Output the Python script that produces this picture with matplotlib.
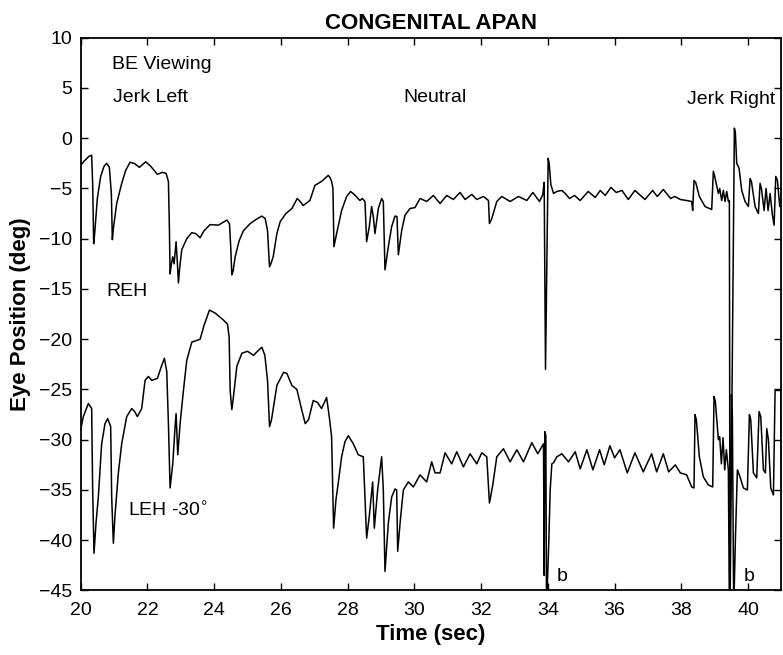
import matplotlib
matplotlib.use("Agg")
import matplotlib.pyplot as plt

plt.rcParams['font.family'] = ['Liberation Sans', 'DejaVu Sans']

# ---- data ----
reh_t = [20.00, 20.10, 20.25, 20.33, 20.36, 20.39, 20.42, 20.50, 20.60, 20.70, 20.78, 20.86, 20.92, 20.95, 20.98,
         21.08, 21.23, 21.35, 21.48, 21.60, 21.76, 21.95, 22.10, 22.30, 22.45, 22.56, 22.63, 22.66, 22.68, 22.72,
         22.76, 22.80, 22.86, 22.90, 22.93, 22.97, 23.03, 23.18, 23.33, 23.45, 23.58, 23.70, 23.88, 24.13, 24.38,
         24.46, 24.50, 24.53, 24.57, 24.63, 24.75, 24.88, 25.08, 25.25, 25.43, 25.53, 25.60, 25.66, 25.70, 25.77,
         25.88, 25.98, 26.15, 26.33, 26.49, 26.58, 26.67, 26.87, 27.02, 27.22, 27.42, 27.47, 27.52, 27.56, 27.59,
         27.67, 27.82, 27.97, 28.09, 28.20, 28.37, 28.44, 28.52, 28.57, 28.65, 28.72, 28.77, 28.82, 28.92, 29.02,
         29.07, 29.12, 29.22, 29.32, 29.42, 29.48, 29.52, 29.62, 29.72, 29.87, 30.02, 30.17, 30.37, 30.57, 30.77,
         30.97, 31.17, 31.37, 31.52, 31.72, 31.87, 32.07, 32.22, 32.25, 32.32, 32.47, 32.62, 32.87, 33.12, 33.37,
         33.55, 33.75, 33.85, 33.89, 33.93, 34.01, 34.04, 34.09, 34.17, 34.27, 34.42, 34.52, 34.65, 34.80, 34.97,
         35.21, 35.42, 35.57, 35.72, 35.89, 36.05, 36.22, 36.41, 36.61, 36.91, 37.14, 37.28, 37.46, 37.68, 37.80,
         37.97, 38.16, 38.31, 38.34, 38.38, 38.43, 38.54, 38.71, 38.91, 38.96, 39.00, 39.11, 39.15, 39.21, 39.26,
         39.31, 39.36, 39.41, 39.44, 39.46, 39.59, 39.62, 39.66, 39.73, 39.81, 39.91, 40.01, 40.06, 40.10, 40.21,
         40.31, 40.36, 40.40, 40.48, 40.54, 40.60, 40.66, 40.73, 40.78, 40.83, 40.88, 40.95, 40.98, 41.00]
reh_v = [-2.7, -2.3, -1.8, -1.7, -4.5, -10.5, -9.5, -6.0, -3.8, -2.8, -2.5, -2.9, -5.5, -10.1, -9.0,
         -6.5, -4.5, -3.2, -2.4, -2.5, -2.9, -2.35, -2.8, -3.6, -3.4, -3.5, -4.3, -9.0, -13.5, -12.5,
         -11.8, -12.5, -10.3, -12.5, -14.4, -12.8, -11.1, -10.0, -9.4, -9.5, -9.9, -9.2, -8.6, -8.65, -8.15,
         -8.5, -11.0, -13.6, -13.2, -11.8, -10.2, -9.2, -8.5, -8.1, -7.75, -8.0, -9.2, -12.8, -12.5, -11.8,
         -9.5, -8.3, -7.5, -7.0, -6.0, -6.3, -6.7, -6.2, -4.7, -4.3, -3.7, -3.9, -4.3, -5.0, -10.8,
         -9.5, -7.2, -5.8, -5.3, -5.6, -6.2, -6.0, -6.3, -10.3, -8.8, -6.8, -7.8, -9.5, -7.0, -6.0,
         -6.3, -13.1, -10.8, -8.8, -7.75, -7.8, -11.6, -9.2, -7.65, -7.0, -6.9, -6.0, -6.3, -5.7, -6.5,
         -5.7, -6.1, -5.4, -6.1, -5.6, -6.1, -5.8, -6.2, -8.5, -8.0, -6.3, -5.8, -6.3, -5.8, -6.2,
         -5.4, -6.3, -5.6, -4.4, -23.0, -2.0, -2.5, -4.6, -5.5, -5.3, -5.2, -5.5, -6.0, -5.7, -6.2,
         -5.3, -5.9, -5.2, -5.7, -4.9, -5.4, -5.2, -6.1, -5.2, -6.1, -5.2, -5.8, -5.1, -6.0, -5.8,
         -6.1, -6.2, -6.3, -7.2, -4.2, -4.4, -5.8, -6.8, -7.1, -3.3, -3.8, -5.5, -5.0, -6.2, -5.2,
         -6.3, -5.3, -6.3, -6.2, -47.0, 1.0, 0.5, -2.5, -3.0, -5.2, -6.3, -6.8, -4.0, -4.3, -6.8,
         -7.5, -4.5, -5.0, -7.2, -5.0, -7.2, -5.5, -7.65, -8.65, -3.8, -4.2, -6.8, -6.0, -7.0]

leh_t = [20.00, 20.08, 20.23, 20.33, 20.36, 20.40, 20.46, 20.53, 20.63, 20.73, 20.81, 20.90, 20.93, 20.98, 21.03,
         21.13, 21.23, 21.38, 21.53, 21.62, 21.70, 21.83, 21.93, 22.03, 22.13, 22.30, 22.43, 22.51, 22.58, 22.63,
         22.68, 22.76, 22.83, 22.86, 22.91, 22.98, 23.08, 23.18, 23.33, 23.58, 23.70, 23.86, 24.03, 24.28, 24.40,
         24.45, 24.48, 24.53, 24.58, 24.68, 24.83, 25.00, 25.18, 25.33, 25.43, 25.52, 25.60, 25.66, 25.72, 25.88,
         26.08, 26.18, 26.33, 26.48, 26.63, 26.73, 26.83, 26.97, 27.10, 27.22, 27.37, 27.45, 27.52, 27.58, 27.65,
         27.72, 27.82, 27.92, 28.02, 28.17, 28.32, 28.47, 28.57, 28.65, 28.75, 28.80, 28.90, 29.02, 29.07, 29.12,
         29.22, 29.32, 29.42, 29.47, 29.50, 29.58, 29.67, 29.82, 29.97, 30.17, 30.37, 30.52, 30.62, 30.77, 30.92,
         31.12, 31.27, 31.47, 31.67, 31.87, 32.02, 32.17, 32.25, 32.35, 32.47, 32.67, 32.87, 33.07, 33.27, 33.52,
         33.70, 33.87, 33.89, 33.91, 33.94, 33.96, 34.03, 34.07, 34.12, 34.17, 34.27, 34.42, 34.62, 34.82, 34.97,
         35.17, 35.35, 35.55, 35.69, 35.86, 36.00, 36.16, 36.38, 36.61, 36.86, 37.11, 37.26, 37.46, 37.62, 37.82,
         37.97, 38.16, 38.31, 38.38, 38.41, 38.45, 38.54, 38.66, 38.81, 38.94, 38.98, 39.02, 39.11, 39.15, 39.20,
         39.25, 39.30, 39.35, 39.41, 39.44, 39.50, 39.53, 39.57, 39.62, 39.68, 39.76, 39.86, 39.98, 40.04, 40.08,
         40.16, 40.26, 40.33, 40.38, 40.46, 40.52, 40.56, 40.61, 40.68, 40.76, 40.81, 40.98, 41.00]
leh_v = [-29.0, -27.7, -26.4, -26.9, -35.0, -41.3, -38.3, -35.7, -30.4, -28.4, -27.9, -28.7, -35.7, -40.3, -37.5,
         -33.3, -30.4, -27.7, -26.9, -27.2, -27.7, -26.9, -24.1, -23.7, -24.1, -23.9, -22.6, -21.9, -23.2, -28.4,
         -34.8, -32.4, -28.7, -27.4, -31.5, -28.4, -25.1, -22.1, -20.3, -20.0, -18.6, -17.1, -17.4, -18.1, -18.5,
         -19.8, -25.1, -27.0, -25.7, -22.7, -21.4, -21.2, -21.6, -21.1, -20.8, -21.6, -24.1, -28.7, -28.0, -24.6,
         -23.3, -23.4, -24.6, -25.0, -27.1, -28.4, -28.0, -26.1, -26.3, -26.9, -25.8, -27.7, -29.7, -38.8, -36.0,
         -34.3, -31.7, -30.2, -29.6, -30.4, -31.5, -31.7, -39.8, -37.6, -34.2, -38.8, -35.0, -31.7, -35.0, -43.1,
         -38.3, -35.7, -34.9, -35.0, -41.1, -38.0, -35.0, -34.2, -34.7, -33.5, -34.2, -32.2, -33.3, -33.3, -31.3,
         -32.4, -31.2, -32.7, -31.4, -32.4, -31.3, -31.7, -36.3, -34.5, -31.7, -30.9, -32.2, -31.0, -32.2, -30.3,
         -31.4, -30.4, -43.5, -29.2, -29.6, -47.0, -40.0, -35.0, -32.4, -32.3, -31.7, -31.4, -32.2, -31.2, -32.9,
         -31.0, -33.0, -31.0, -32.5, -30.6, -31.8, -31.0, -33.3, -31.3, -33.2, -31.4, -33.2, -31.4, -33.2, -32.5,
         -33.3, -33.5, -34.7, -34.8, -27.5, -28.0, -31.7, -33.7, -34.5, -34.7, -25.7, -26.2, -30.0, -29.7, -32.4,
         -29.8, -33.0, -31.0, -33.0, -47.0, -25.5, -27.7, -47.0, -40.0, -33.0, -33.7, -34.8, -35.0, -27.5, -28.0,
         -33.3, -33.8, -27.2, -27.7, -33.0, -33.3, -28.9, -30.0, -34.8, -35.5, -25.1, -25.1, -35.0]

x_ticks = [20, 22, 24, 26, 28, 30, 32, 34, 36, 38, 40]
y_ticks = [10, 5, 0, -5, -10, -15, -20, -25, -30, -35, -40, -45]

fig = plt.figure(figsize=(7.83, 6.55), dpi=100)
ax = fig.add_axes([0.103, 0.0985, 0.895, 0.844])

ax.plot(reh_t, reh_v, color='black', lw=1.1)
ax.plot(leh_t, leh_v, color='black', lw=1.1)

ax.set_xlim(20, 41)
ax.set_ylim(-45, 10)
ax.set_xticks(x_ticks)
ax.set_yticks(y_ticks)
ax.tick_params(direction='in', top=True, right=True, length=5, width=1.0,
               labelsize=14, pad=6)
ax.tick_params(axis='x', pad=8)
for s in ax.spines.values():
    s.set_linewidth(1.3)

ax.set_title('CONGENITAL APAN', fontsize=16, fontweight='bold', pad=6)
ax.set_xlabel('Time (sec)', fontsize=16, fontweight='bold', labelpad=4)
ax.set_ylabel('Eye Position (deg)', fontsize=16, fontweight='bold', labelpad=6)

ax.text(20.93, 7.3, 'BE Viewing', fontsize=14, va='center', ha='left')
ax.text(20.98, 4.0, 'Jerk Left', fontsize=14, va='center', ha='left')
ax.text(29.66, 4.0, 'Neutral', fontsize=14, va='center', ha='left')
ax.text(38.17, 3.8, 'Jerk Right', fontsize=14, va='center', ha='left')
ax.text(20.76, -15.3, 'REH', fontsize=14, va='center', ha='left')
ax.text(21.43, -37.1, 'LEH -30$^{\\circ}$', fontsize=14, va='center', ha='left')
ax.text(34.27, -43.6, 'b', fontsize=14, va='center', ha='left')
ax.text(39.88, -43.6, 'b', fontsize=14, va='center', ha='left')

fig.savefig('out.png', dpi=100)
